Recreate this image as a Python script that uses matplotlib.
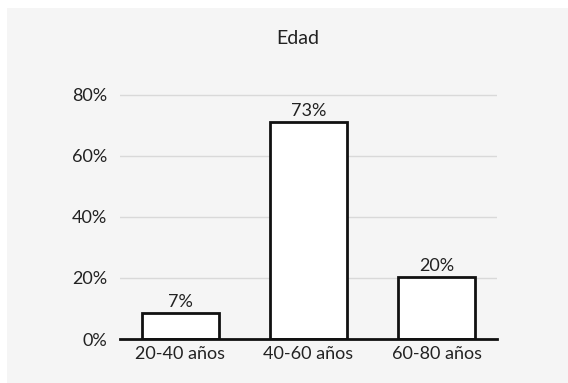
import matplotlib.pyplot as plt
from matplotlib.patches import Rectangle

# data
categorias = ["20-40 años", "40-60 años", "60-80 años"]
valores = [8.4, 71.1, 20.2]
etiquetas = ["7%", "73%", "20%"]
ticks_y = [0, 20, 40, 60, 80]

plt.rcParams['font.family'] = ['Lato', 'DejaVu Sans']

fig = plt.figure(figsize=(5.68, 3.83), dpi=100)
fig.patch.set_facecolor('white')
# gray panel behind the chart
fig.patches.append(Rectangle((7 / 568, 0), 1, 375 / 383, transform=fig.transFigure,
                             facecolor='#f5f5f5', edgecolor='none', zorder=-10))

ax = fig.add_axes([120 / 568, 44 / 383, 377 / 568, 247.5 / 383])
ax.set_facecolor('none')

x = range(len(categorias))
bars = ax.bar(x, valores, width=0.6, color='white', edgecolor='#111111', linewidth=2, zorder=3)
for b, lab in zip(bars, etiquetas):
    ax.text(b.get_x() + b.get_width() / 2, b.get_height() + 1, lab,
            ha='center', va='bottom', fontsize=13, color='#222222', zorder=4)

ax.set_xlim(-0.47, 2.47)
ax.set_ylim(0, 81)
ax.set_yticks(ticks_y)
ax.set_yticklabels([f"{t}%" for t in ticks_y])
ax.set_xticks(list(x))
ax.set_xticklabels(categorias)
ax.tick_params(axis='both', length=0, labelsize=13, colors='#222222')
ax.tick_params(axis='y', pad=9)
ax.tick_params(axis='x', pad=5)

ax.yaxis.grid(True, color='#d9d9d9', linewidth=1, zorder=0)
for s in ['top', 'right', 'left']:
    ax.spines[s].set_visible(False)
ax.spines['bottom'].set_color('#111111')
ax.spines['bottom'].set_linewidth(2)
ax.spines['bottom'].set_zorder(5)

fig.text(298 / 568, 1 - 38 / 383, "Edad", ha='center', va='center', fontsize=14, color='#222222')

fig.savefig("out.png", dpi=100)
